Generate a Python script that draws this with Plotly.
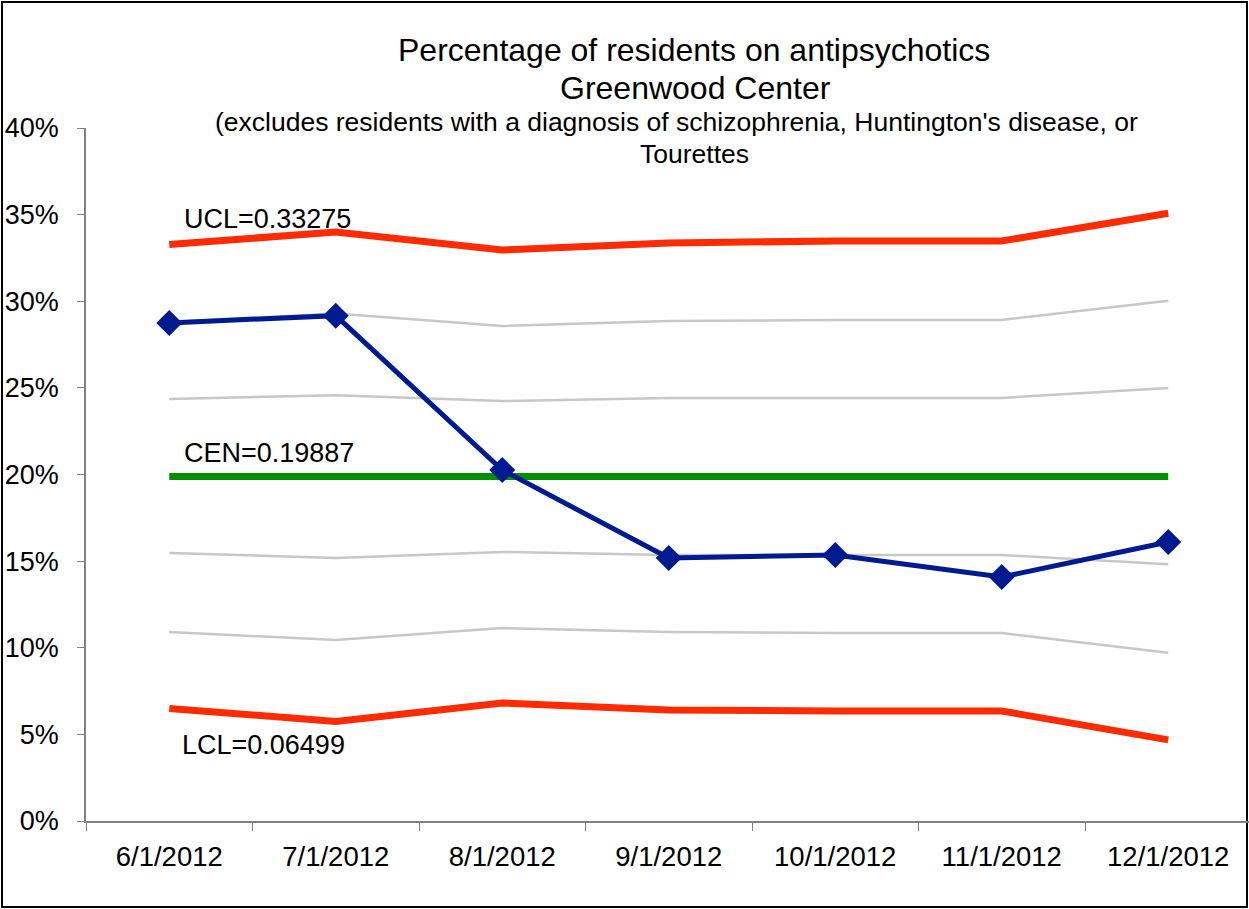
import plotly.graph_objects as go

categories = ["6/1/2012", "7/1/2012", "8/1/2012", "9/1/2012", "10/1/2012", "11/1/2012", "12/1/2012"]
pct_values = [0.2875, 0.2917, 0.2026, 0.1518, 0.1535, 0.1408, 0.1610]
ucl = [0.33275, 0.3400, 0.3296, 0.3336, 0.3348, 0.3348, 0.3508]
lcl = [0.06499, 0.0574, 0.0681, 0.0641, 0.0635, 0.0635, 0.0468]
cen = [0.19887] * 7
plus2 = [0.2880, 0.2930, 0.2857, 0.2886, 0.2892, 0.2892, 0.3003]
plus1 = [0.2436, 0.2457, 0.2424, 0.2442, 0.2442, 0.2442, 0.2499]
minus1 = [0.1547, 0.1518, 0.1553, 0.1535, 0.1535, 0.1535, 0.1482]
minus2 = [0.1091, 0.1045, 0.1114, 0.1091, 0.1085, 0.1085, 0.0971]

W, H = 1249, 909
L, R, T, B = 86, 0, 128, 88
PW = W - L - R
PH = H - T - B

def px(x):
    return (x - L) / PW

def py(y):
    return (H - B - y) / PH

FONT = "Liberation Sans, Arial, sans-serif"

fig = go.Figure()
for s in [plus2, plus1, minus1, minus2]:
    fig.add_trace(go.Scatter(x=categories, y=s, mode="lines",
                             line=dict(color="#C8C8C8", width=2.5), hoverinfo="skip"))
for s in [ucl, lcl]:
    fig.add_trace(go.Scatter(x=categories, y=s, mode="lines",
                             line=dict(color="#FF2B00", width=7)))
fig.add_trace(go.Scatter(x=categories, y=cen, mode="lines",
                         line=dict(color="#008F00", width=7)))
fig.add_trace(go.Scatter(x=categories, y=pct_values, mode="lines+markers",
                         line=dict(color="#001A8F", width=5),
                         marker=dict(symbol="diamond", size=20, color="#001A8F")))

annos = [
    ("Percentage of residents on antipsychotics", 694, 50, 32),
    ("Greenwood Center", 695, 88, 32),
    ("(excludes residents with a diagnosis of schizophrenia, Huntington's disease, or", 676, 122, 26.5),
    ("Tourettes", 694, 154, 26.5),
]
for text, x, y, size in annos:
    fig.add_annotation(text=text, xref="paper", yref="paper", x=px(x), y=py(y),
                       xanchor="center", yanchor="middle", showarrow=False,
                       font=dict(family=FONT, size=size, color="black"))

labels = [("UCL=0.33275", 182, 219), ("CEN=0.19887", 182, 453), ("LCL=0.06499", 180, 745)]
for text, x, y in labels:
    fig.add_annotation(text=text, xref="paper", yref="paper", x=px(x), y=py(y),
                       xanchor="left", yanchor="middle", showarrow=False,
                       font=dict(family=FONT, size=27, color="black"))

fig.add_shape(type="rect", xref="paper", yref="paper",
              x0=px(2), x1=px(1247), y0=py(907), y1=py(2),
              line=dict(color="black", width=2), layer="below")

fig.update_layout(
    width=W, height=H,
    margin=dict(l=L, r=R, t=T, b=B),
    paper_bgcolor="white", plot_bgcolor="white",
    showlegend=False,
    font=dict(family=FONT, color="black"),
    xaxis=dict(type="category", range=[-0.5, 6.485], showgrid=False,
               showline=True, linecolor="#808080", linewidth=1.5,
               ticks="outside", tickson="boundaries", ticklen=8, tickcolor="#808080",
               tickfont=dict(size=27.5, family=FONT, color="black"),
               ticklabelstandoff=10, zeroline=False),
    yaxis=dict(range=[0, 0.4], dtick=0.05, tickformat=".0%", showgrid=False,
               showline=True, linecolor="#808080", linewidth=1.5,
               ticks="outside", ticklen=7, tickcolor="#808080",
               tickfont=dict(size=27, family=FONT, color="black"),
               ticklabelstandoff=13, zeroline=False),
)

fig.write_html("out.html", config={"displayModeBar": False},
               post_script="document.body.style.margin='0';document.body.style.overflow='hidden';")
